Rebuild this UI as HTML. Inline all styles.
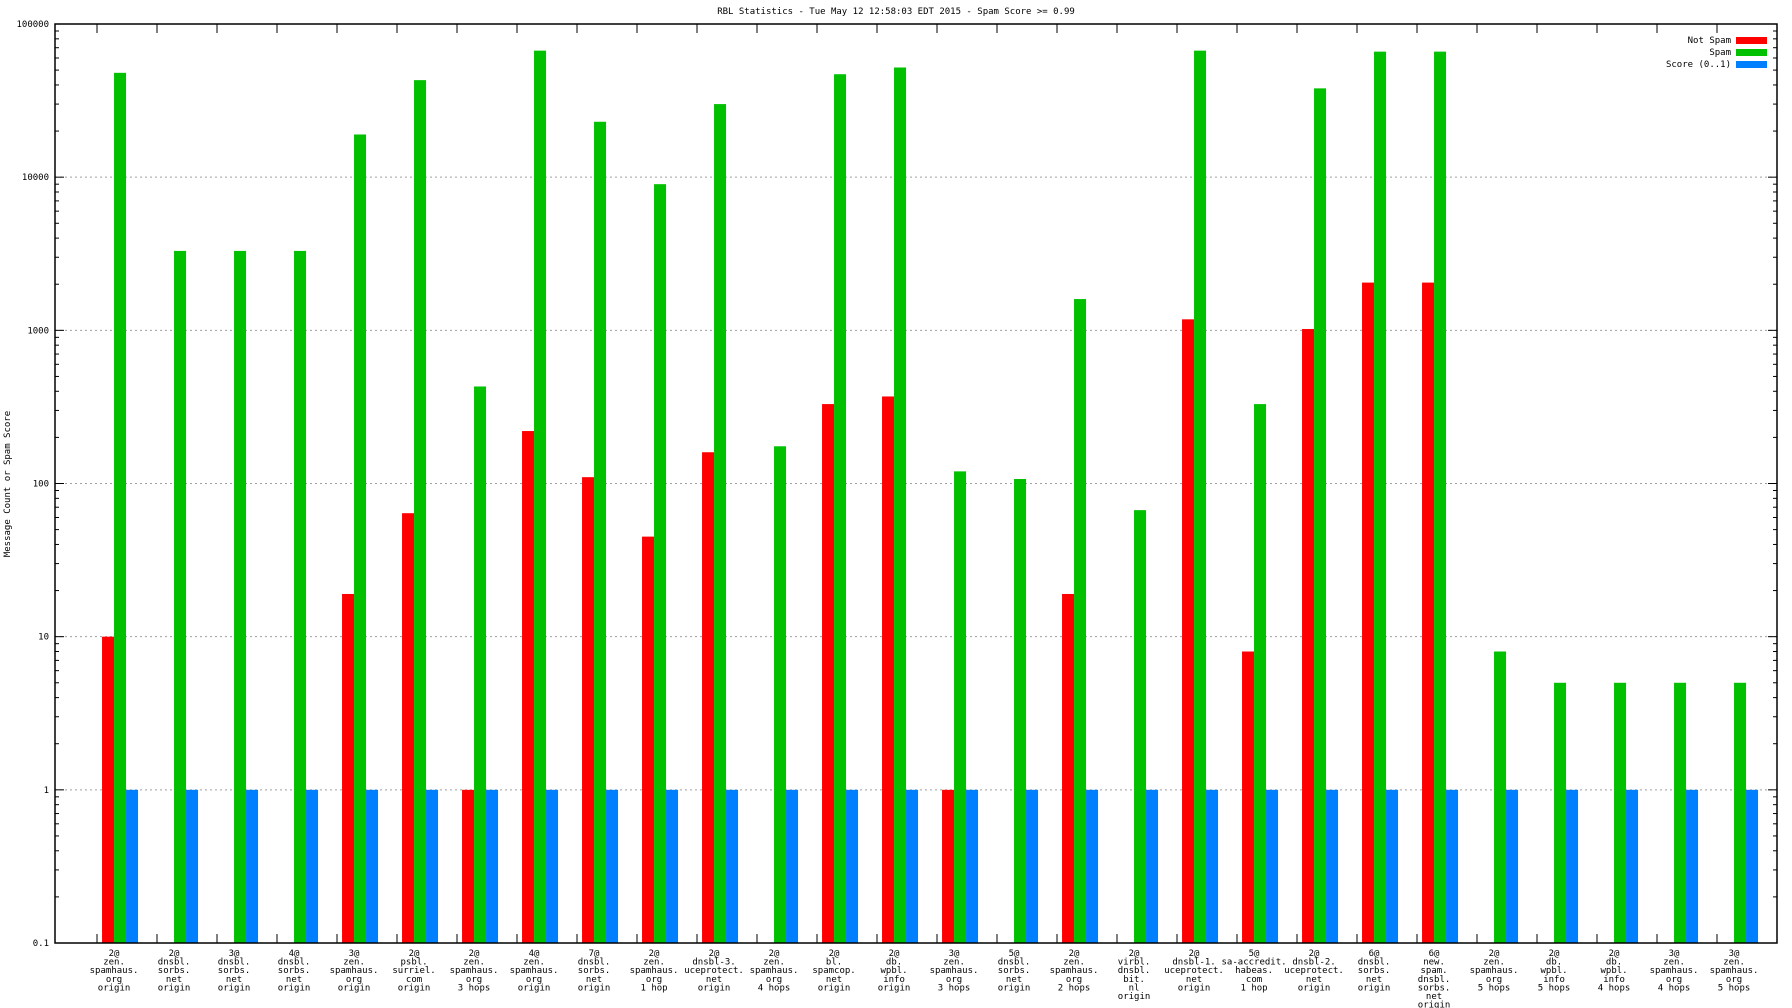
<!DOCTYPE html>
<html><head><meta charset="utf-8"><style>
html,body{margin:0;padding:0;background:#fff;}
svg{display:block;font-family:"DejaVu Sans Mono","Liberation Mono",monospace;}
</style></head><body>
<svg id="chart" width="1792" height="1008" xmlns="http://www.w3.org/2000/svg"></svg>
<script>
const categories = [
 ["2@","zen.","spamhaus.","org","origin"],
 ["2@","dnsbl.","sorbs.","net","origin"],
 ["3@","dnsbl.","sorbs.","net","origin"],
 ["4@","dnsbl.","sorbs.","net","origin"],
 ["3@","zen.","spamhaus.","org","origin"],
 ["2@","psbl.","surriel.","com","origin"],
 ["2@","zen.","spamhaus.","org","3 hops"],
 ["4@","zen.","spamhaus.","org","origin"],
 ["7@","dnsbl.","sorbs.","net","origin"],
 ["2@","zen.","spamhaus.","org","1 hop"],
 ["2@","dnsbl-3.","uceprotect.","net","origin"],
 ["2@","zen.","spamhaus.","org","4 hops"],
 ["2@","bl.","spamcop.","net","origin"],
 ["2@","db.","wpbl.","info","origin"],
 ["3@","zen.","spamhaus.","org","3 hops"],
 ["5@","dnsbl.","sorbs.","net","origin"],
 ["2@","zen.","spamhaus.","org","2 hops"],
 ["2@","virbl.","dnsbl.","bit.","nl","origin"],
 ["2@","dnsbl-1.","uceprotect.","net","origin"],
 ["5@","sa-accredit.","habeas.","com","1 hop"],
 ["2@","dnsbl-2.","uceprotect.","net","origin"],
 ["6@","dnsbl.","sorbs.","net","origin"],
 ["6@","new.","spam.","dnsbl.","sorbs.","net","origin"],
 ["2@","zen.","spamhaus.","org","5 hops"],
 ["2@","db.","wpbl.","info","5 hops"],
 ["2@","db.","wpbl.","info","4 hops"],
 ["3@","zen.","spamhaus.","org","4 hops"],
 ["3@","zen.","spamhaus.","org","5 hops"]
];
const notSpam = [10,0,0,0,19,64,1,220,110,45,160,0,330,370,1,0,19,0,1180,8,1020,2050,2050,0,0,0,0,0];
const spam = [48000,3300,3300,3300,19000,43000,430,67000,23000,9000,30000,175,47000,52000,120,107,1600,67,67000,330,38000,66000,66000,8,5,5,5,5];
const score = [1,1,1,1,1,1,1,1,1,1,1,1,1,1,1,1,1,1,1,1,1,1,1,1,1,1,1,1];
const yTicks = [0.1,1,10,100,1000,10000,100000];
const yTickLabels = ["0.1","1","10","100","1000","10000","100000"];

const L=55,R=1777,T=24,B=943;
const x = i => L + (i + 0.7) / 28.7 * (R - L);
const y = v => B - (Math.log10(v) + 1) / 6 * (B - T);
const NS="http://www.w3.org/2000/svg", svg=document.getElementById('chart');
function mk(tag, attrs, parent){const e=document.createElementNS(NS,tag);for(const k in attrs)e.setAttribute(k,attrs[k]);(parent||svg).appendChild(e);return e;}

let t=mk('text',{x:896,y:14,'text-anchor':'middle','font-size':9});
t.textContent="RBL Statistics - Tue May 12 12:58:03 EDT 2015 - Spam Score >= 0.99";


t=mk('text',{x:0,y:0,'text-anchor':'middle','font-size':9,transform:'translate(10,484) rotate(-90)'});
t.textContent="Message Count or Spam Score";



yTicks.forEach((v,k)=>{
  const yy=y(v);
  if(k>0&&k<yTicks.length-1){const g=mk('line',{x1:L,x2:R,y1:yy,y2:yy,stroke:'#a0a0a0','stroke-dasharray':'2,3','stroke-width':1});
  
  }
  mk('line',{x1:L,x2:L+9,y1:yy,y2:yy,stroke:'#000'});
  mk('line',{x1:R-9,x2:R,y1:yy,y2:yy,stroke:'#000'});
  if(k<yTicks.length-1) for(let m=2;m<10;m++){const ym=y(v*m);mk('line',{x1:L,x2:L+4,y1:ym,y2:ym,stroke:'#000'});mk('line',{x1:R-4,x2:R,y1:ym,y2:ym,stroke:'#000'});}
  const tl=mk('text',{x:L-6,y:yy+3,'text-anchor':'end','font-size':9});
  tl.textContent=yTickLabels[k];
  
  
});

const bw=(x(1)-x(0))/5;
categories.forEach((lines,i)=>{
  const xx=x(i);
  mk('line',{x1:xx,x2:xx,y1:B-9,y2:B,stroke:'#000'});
  mk('line',{x1:xx,x2:xx,y1:T,y2:T+9,stroke:'#000'});
  const series=[[notSpam,'#ff0000','not-spam'],[spam,'#00c000','spam'],[score,'#0080ff','score']];
  series.forEach((s,j)=>{
    const v=s[0][i]; if(!(v>0)) return;
    const x0=xx+bw*(0.42+j);
    const r=mk('rect',{x:x0,y:y(v),width:bw,height:B-y(v),fill:s[1]});
    
    
  });
  const tx=mk('text',{x:xx+bw*1.42,y:956,'text-anchor':'middle','font-size':9});
  
  
  lines.forEach((ln,k)=>{const ts=mk('tspan',{x:xx+bw*1.42,dy:k?8.6:0},tx);ts.textContent=ln;});
});
mk('rect',{x:L,y:T,width:R-L,height:B-T,fill:'none',stroke:'#000','stroke-width':1.5});

const leg=[['Not Spam','#ff0000'],['Spam','#00c000'],['Score (0..1)','#0080ff']];
leg.forEach((l,k)=>{
  const yy=40+k*12;
  const lt=mk('text',{x:1731,y:yy+3,'text-anchor':'end','font-size':9});
  lt.textContent=l[0];
  
  
  const ls=mk('rect',{x:1736,y:yy-3,width:31,height:7,fill:l[1]});
  
  
});
</script>
</body></html>
